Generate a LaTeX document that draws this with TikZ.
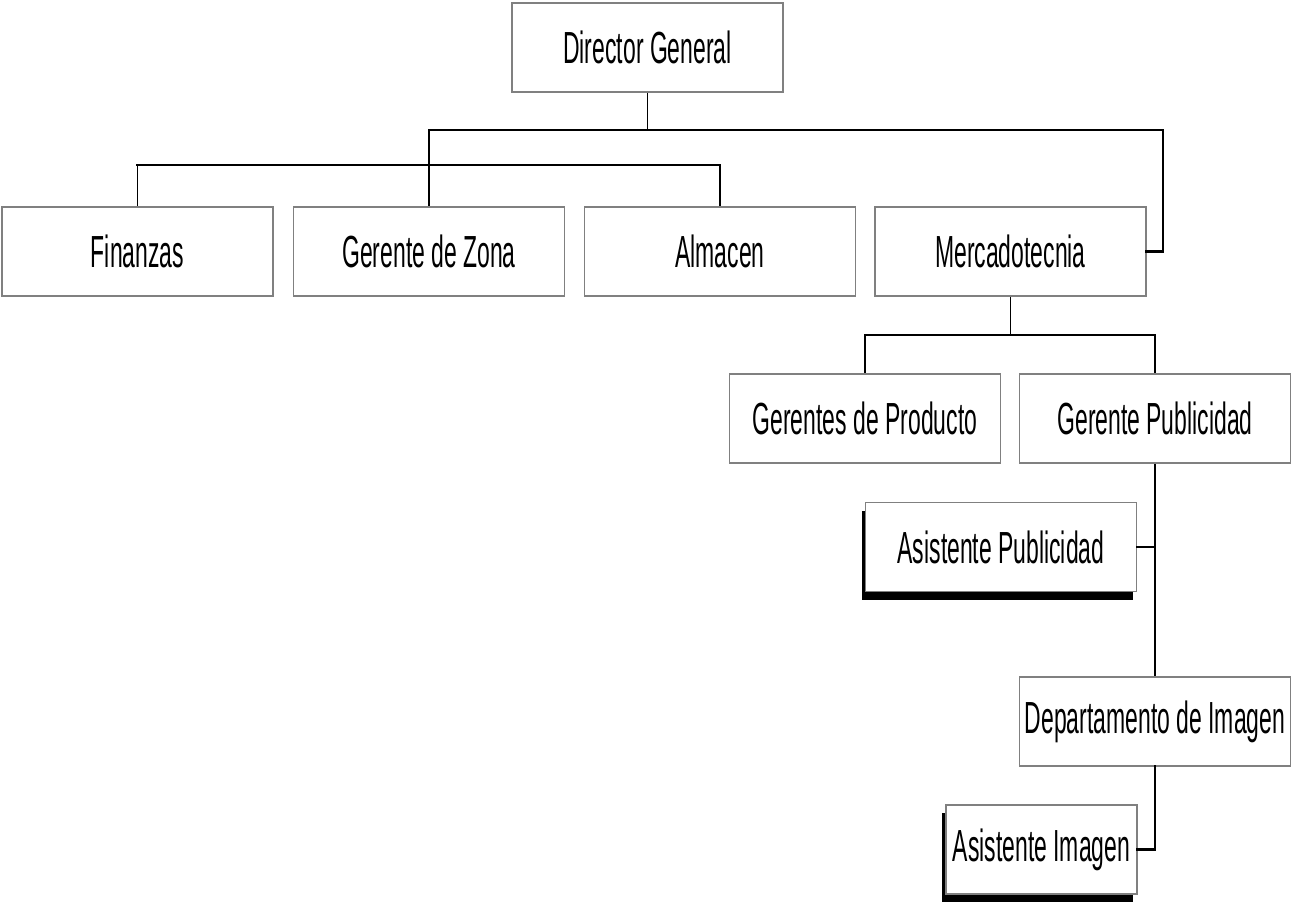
\documentclass[tikz,border=0pt]{standalone}
\usepackage{fontspec}
\setmainfont{Liberation Sans}[FakeStretch=0.51]
\usetikzlibrary{shadows}
\tikzset{font=\fontsize{45}{50}\selectfont}
\tikzset{caja/.style={draw=gray,line width=1.6pt,fill=white,minimum width=271pt,minimum height=89pt,inner sep=0pt}}
\tikzset{sombra/.style={caja,drop shadow={shadow xshift=-4pt,shadow yshift=-8pt,fill=black,opacity=1}}}
\tikzset{gruesa/.style={line width=2.8pt,line cap=rect},fina/.style={line width=1.3pt}}

\begin{document}
\begin{tikzpicture}[x=1pt,y=-1pt]
\useasboundingbox (0,0) rectangle (1291,902);
\node[caja] (DG) at (647.5,47.5) {Director General};
\node[caja] (FI) at (137.5,251.5) {Finanzas};
\node[caja] (GZ) at (429,251.5) {Gerente de Zona};
\node[caja] (AL) at (720,251.5) {Almacen};
\node[caja] (ME) at (1010.5,251.5) {Mercadotecnia};
\node[caja] (GP) at (865,418.5) {Gerentes de Producto};
\node[caja] (GPu) at (1155,418.5) {Gerente Publicidad};
\node[sombra] (AP) at (1001,547) {Asistente Publicidad};
\node[caja] (DI) at (1155,721.5) {Departamento de Imagen};
\node[sombra,minimum width=191pt] (AI) at (1041.5,849.5) {Asistente Imagen};
\coordinate (B1l) at (429,130);
\coordinate (B1r) at (1163,130);
\coordinate (B2l) at (137.5,165);
\coordinate (B2r) at (720,165);
\coordinate (B3l) at (865,335);
\coordinate (B3r) at (1155,335);
\draw[fina] (DG.south) -- (DG.south |- B1l);
\draw[fina] (B1l) -- (GZ.north);
\draw[gruesa] (B1l) -- (B1r) |- (ME.east);
\draw[gruesa] (B2l) -- (B2r);
\draw[fina] (B2l) -- (FI.north);
\draw[fina] (B2r) -- (AL.north);
\draw[fina] (ME.south) -- (ME.south |- B3l);
\draw[gruesa] (B3l) -- (B3r);
\draw[fina] (B3l) -- (GP.north);
\draw[fina] (B3r) -- (GPu.north);
\draw[fina] (GPu.south) -- (DI.north);
\draw[gruesa] (AP.east) -- (AP.east -| GPu.south);
\draw[gruesa] (DI.south) |- (AI.east);
\end{tikzpicture}
\end{document}
